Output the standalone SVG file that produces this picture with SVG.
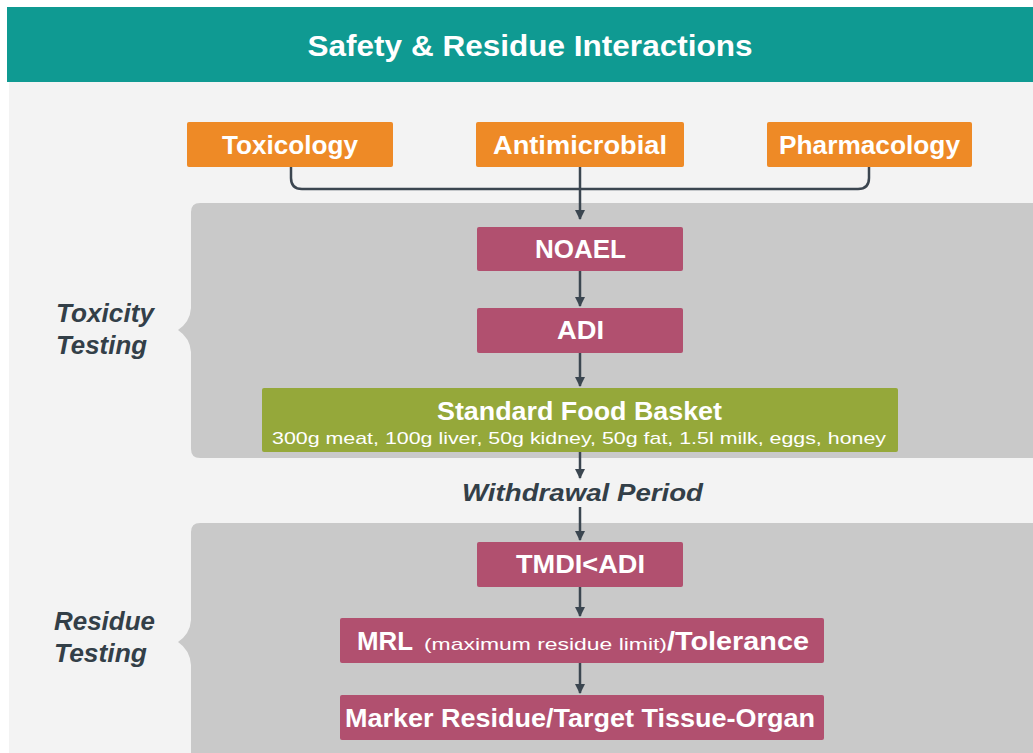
<svg xmlns="http://www.w3.org/2000/svg" width="1033" height="753" viewBox="0 0 1033 753">
<defs>
<style>
.org{fill:#ee8a26}
.mag{fill:#b1506f}
.grn{fill:#95a83a}
.panel{fill:#c9c9c9}
.t{font-family:"Liberation Sans",Arial,sans-serif;font-weight:bold;fill:#ffffff;text-anchor:middle;font-size:25px}
.side{font-family:"Liberation Sans",Arial,sans-serif;font-weight:bold;font-style:italic;fill:#333f48;font-size:25px}
.ln{stroke:#3b4650;stroke-width:2.5;fill:none}
</style>
<marker id="ah" markerWidth="10" markerHeight="10" refX="9" refY="5" orient="auto" markerUnits="userSpaceOnUse">
<path d="M0,0 L10,5 L0,10 Z" fill="#3b4650"/>
</marker>
</defs>
<rect x="0" y="0" width="1033" height="753" fill="#ffffff"/>
<rect x="9" y="82" width="1024" height="671" fill="#f3f3f3"/>
<g id="header">
<rect x="7" y="7" width="1026" height="75" fill="#0f9a92"/>
<text class="t" x="530" y="56" style="font-size:29px" textLength="445" lengthAdjust="spacingAndGlyphs">Safety &amp; Residue Interactions</text>
</g>
<g id="panel-toxicity">
<path class="panel" d="M200,203 H1033 V458 H200 Q191,458 191,449 V352 Q190,338 178,330 Q190,322 191,308 V212 Q191,203 200,203 Z"/>
</g>
<g id="panel-residue">
<path class="panel" d="M200,523 H1033 V753 H191 V665 Q190,650 178,642 Q190,634 191,620 V532 Q191,523 200,523 Z"/>
</g>
<g id="label-toxicity">
<text class="side" x="56" y="322" textLength="98" lengthAdjust="spacingAndGlyphs">Toxicity</text>
<text class="side" x="56" y="354" textLength="91" lengthAdjust="spacingAndGlyphs">Testing</text>
</g>
<g id="label-residue">
<text class="side" x="54" y="630" textLength="101" lengthAdjust="spacingAndGlyphs">Residue</text>
<text class="side" x="54" y="662" textLength="93" lengthAdjust="spacingAndGlyphs">Testing</text>
</g>
<g id="connectors">
<path class="ln" d="M291,166 V178 Q291,189 302,189 H858 Q869,189 869,178 V166"/>
<path class="ln" d="M580,166 V219" marker-end="url(#ah)"/>
<path class="ln" d="M580,271 V306" marker-end="url(#ah)"/>
<path class="ln" d="M580,353 V386" marker-end="url(#ah)"/>
<path class="ln" d="M580,452 V478" marker-end="url(#ah)"/>
<path class="ln" d="M580,507 V540" marker-end="url(#ah)"/>
<path class="ln" d="M580,587 V616" marker-end="url(#ah)"/>
<path class="ln" d="M580,663 V693" marker-end="url(#ah)"/>
</g>
<g id="toxicology">
<rect class="org" x="187" y="122" width="206" height="45" rx="2"/>
<text class="t" x="290" y="154" textLength="136" lengthAdjust="spacingAndGlyphs">Toxicology</text>
</g>
<g id="antimicrobial">
<rect class="org" x="476" y="122" width="208" height="45" rx="2"/>
<text class="t" x="580" y="154" textLength="174" lengthAdjust="spacingAndGlyphs">Antimicrobial</text>
</g>
<g id="pharmacology">
<rect class="org" x="767" y="122" width="205" height="45" rx="2"/>
<text class="t" x="869.5" y="154" textLength="181" lengthAdjust="spacingAndGlyphs">Pharmacology</text>
</g>
<g id="noael">
<rect class="mag" x="477" y="227" width="206" height="44" rx="2"/>
<text class="t" x="580.5" y="258" textLength="91" lengthAdjust="spacingAndGlyphs">NOAEL</text>
</g>
<g id="adi">
<rect class="mag" x="477" y="308" width="206" height="45" rx="2"/>
<text class="t" x="580.5" y="339" textLength="47" lengthAdjust="spacingAndGlyphs">ADI</text>
</g>
<g id="food-basket">
<rect class="grn" x="262" y="388" width="636" height="64" rx="2"/>
<text class="t" x="579.5" y="420" textLength="285" lengthAdjust="spacingAndGlyphs">Standard Food Basket</text>
<text class="t" x="579" y="444" style="font-size:17px;font-weight:normal" textLength="614" lengthAdjust="spacingAndGlyphs">300g meat, 100g liver, 50g kidney, 50g fat, 1.5l milk, eggs, honey</text>
</g>
<g id="withdrawal">
<text x="582.5" y="501" font-family="Liberation Sans, Arial, sans-serif" font-weight="bold" font-style="italic" font-size="24" fill="#333f48" text-anchor="middle" textLength="241" lengthAdjust="spacingAndGlyphs">Withdrawal Period</text>
</g>
<g id="tmdi">
<rect class="mag" x="477" y="542" width="206" height="45" rx="2"/>
<text class="t" x="580.5" y="573" textLength="129" lengthAdjust="spacingAndGlyphs">TMDI&lt;ADI</text>
</g>
<g id="mrl">
<rect class="mag" x="340" y="618" width="484" height="45" rx="2"/>
<text class="t" x="357" y="650" style="text-anchor:start" textLength="56" lengthAdjust="spacingAndGlyphs">MRL</text>
<text class="t" x="424" y="650" style="text-anchor:start;font-size:17px;font-weight:normal" textLength="243" lengthAdjust="spacingAndGlyphs">(maximum residue limit)</text>
<text class="t" x="667" y="650" style="text-anchor:start" textLength="142" lengthAdjust="spacingAndGlyphs">/Tolerance</text>
</g>
<g id="marker">
<rect class="mag" x="340" y="695" width="484" height="45" rx="2"/>
<text class="t" x="580" y="727" textLength="470" lengthAdjust="spacingAndGlyphs">Marker Residue/Target Tissue-Organ</text>
</g>
</svg>
